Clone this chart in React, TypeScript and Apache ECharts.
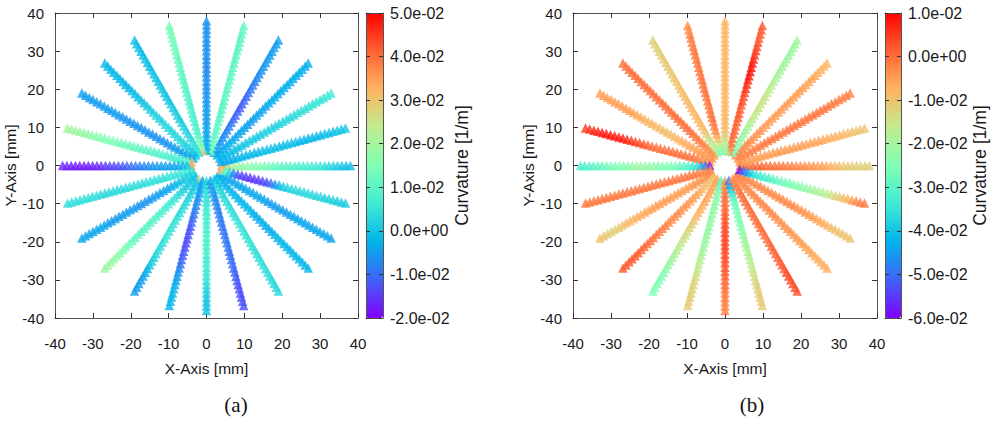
import React, { useEffect, useRef } from "react";
import * as echarts from "echarts";

// ---- measurement grid (polar) ----
const spokeAngles = [0, 15, 30, 45, 60, 75, 90, 105, 120, 135, 150, 165, 180, 195, 210, 225, 240, 255, 270, 285, 300, 315, 330, 345];
const radii = [4.0, 5.13, 6.27, 7.4, 8.53, 9.67, 10.8, 11.93, 13.07, 14.2, 15.33, 16.47, 17.6, 18.73, 19.87, 21.0, 22.13, 23.27, 24.4, 25.53, 26.67, 27.8, 28.93, 30.07, 31.2, 32.33, 33.47, 34.6, 35.73, 36.87, 38.0];

// ---- curvature values, in 1e-3 1/m, one row per spoke (same order as spokeAngles) ----
const curvA: number[][] = [
  [36, 30, 24, 20, 18, 17, 17, 16, 16, 15, 14, 13, 12, 11, 10, 10, 9, 8, 8, 7, 7, 6, 6, 5, 4, 3, 2, 1, 0, -1, -1],
  [-4, -4, -3, -3, -3, -2, -2, -2, -2, -2, -1, -1, -1, -1, -1, -1, -1, -1, -1, -2, -2, -2, -2, -2, -2, -1, -1, -1, 0, 0, 0],
  [-3, -2, -2, -1, -1, 0, 0, 0, 1, 1, 1, 1, 2, 2, 2, 2, 2, 3, 3, 3, 3, 4, 4, 4, 4, 5, 5, 5, 5, 6, 6],
  [-2, -2, -3, -3, -3, -3, -4, -4, -4, -4, -5, -5, -5, -4, -4, -4, -4, -3, -3, -3, -3, -3, -3, -3, -3, -3, -3, -3, -3, -3, -3],
  [-4, -5, -5, -6, -6, -7, -7, -8, -9, -10, -11, -11, -12, -12, -11, -11, -10, -9, -8, -8, -7, -7, -6, -6, -6, -5, -5, -5, -5, -5, -5],
  [14, 13, 12, 12, 11, 11, 11, 11, 10, 10, 10, 10, 10, 11, 11, 11, 11, 11, 11, 11, 11, 10, 10, 10, 10, 10, 10, 10, 10, 11, 11],
  [-2, -3, -3, -4, -4, -4, -4, -5, -5, -5, -5, -5, -6, -6, -6, -6, -6, -6, -7, -7, -7, -7, -6, -6, -6, -6, -6, -6, -6, -6, -6],
  [30, 18, 14, 12, 10, 9, 8, 8, 8, 8, 8, 8, 8, 9, 9, 9, 10, 10, 10, 11, 11, 12, 12, 12, 13, 13, 13, 14, 14, 14, 14],
  [5, 5, 4, 4, 3, 3, 2, 2, 2, 1, 1, 1, 1, 1, 0, 0, 0, 0, 0, 0, 0, 0, 0, -1, -1, -1, -1, -1, -1, -1, -1],
  [-1, 0, 1, 2, 2, 3, 3, 3, 3, 3, 3, 3, 2, 2, 2, 1, 1, 0, 0, -1, -1, -1, -2, -2, -2, -2, -2, -2, -2, -2, -2],
  [-3, -4, -4, -4, -5, -5, -5, -6, -6, -6, -6, -6, -6, -6, -6, -6, -6, -6, -6, -6, -6, -5, -5, -5, -5, -5, -5, -5, -5, -5, -5],
  [30, 12, 8, 7, 7, 7, 8, 8, 9, 9, 10, 10, 11, 11, 12, 12, 13, 13, 14, 14, 15, 15, 16, 16, 17, 17, 18, 18, 19, 19, 20],
  [35, -2, -3, -4, -4, -5, -5, -5, -5, -6, -6, -7, -8, -9, -10, -11, -12, -13, -14, -14, -15, -16, -17, -17, -18, -18, -18, -18, -18, -17, -17],
  [6, 6, 6, 5, 5, 5, 5, 4, 4, 4, 4, 4, 4, 4, 4, 4, 3, 3, 3, 3, 3, 3, 3, 4, 4, 4, 4, 4, 4, 4, 4],
  [3, 2, 1, 0, -1, -2, -3, -4, -4, -5, -5, -5, -6, -6, -6, -6, -5, -5, -5, -5, -5, -5, -5, -5, -4, -4, -4, -4, -4, -4, -4],
  [0, 0, 1, 1, 2, 3, 4, 5, 6, 7, 7, 8, 8, 9, 9, 9, 10, 10, 10, 11, 11, 12, 13, 14, 15, 16, 17, 18, 19, 19, 19],
  [27, 0, 1, 1, 2, 2, 3, 3, 4, 4, 4, 5, 5, 5, 5, 5, 5, 4, 4, 4, 3, 2, 1, 0, -2, -3, -4, -5, -5, -5, -5],
  [-4, -4, -5, -5, -6, -6, -7, -8, -9, -10, -11, -12, -12, -13, -13, -13, -13, -12, -12, -11, -10, -8, -6, -5, -4, -3, -2, -2, -2, -2, -2],
  [3, 3, 4, 4, 5, 5, 6, 6, 7, 7, 7, 8, 8, 8, 8, 8, 8, 8, 7, 7, 7, 6, 6, 5, 4, 3, 2, 1, 0, 0, 0],
  [-5, -6, -6, -6, -7, -7, -7, -8, -8, -8, -9, -9, -9, -9, -9, -9, -9, -10, -10, -10, -10, -11, -11, -12, -12, -13, -13, -13, -13, -13, -13],
  [1, 2, 2, 3, 3, 3, 4, 4, 4, 4, 4, 5, 5, 5, 5, 5, 5, 5, 4, 4, 4, 4, 4, 4, 4, 4, 4, 3, 3, 3, 3],
  [-1, -1, -2, -2, -2, -2, -2, -2, -2, -2, -2, -2, -3, -3, -3, -3, -3, -3, -3, -2, -2, -2, -2, -2, -2, -2, -2, -2, -2, -2, -2],
  [-3, -3, -3, -4, -4, -4, -4, -4, -4, -4, -4, -4, -4, -5, -5, -5, -5, -5, -5, -4, -4, -4, -4, -4, -4, -4, -4, -4, -4, -4, -4],
  [30, 10, 2, -8, -12, -14, -14, -15, -15, -15, -14, -13, -10, -6, -2, 1, 2, 3, 3, 3, 3, 3, 3, 3, 3, 2, 2, 2, 1, 1, 1],
];

const curvB: number[][] = [
  [-1, 0, 0, 1, 1, 1, 0, 0, 0, -1, -1, -2, -2, -3, -3, -3, -4, -4, -5, -5, -6, -7, -8, -9, -10, -10, -11, -11, -12, -12, -12],
  [-4, -4, -5, -5, -5, -5, -5, -5, -5, -5, -5, -5, -5, -5, -5, -5, -6, -6, -6, -6, -6, -7, -7, -7, -8, -8, -9, -9, -10, -10, -10],
  [-4, -3, -3, -2, -2, -2, -1, -1, -1, -1, -1, -1, -1, -1, -1, -1, -1, -1, -1, -1, -1, -1, -1, -1, -1, -1, -2, -2, -2, -2, -2],
  [-2, -2, -2, -3, -3, -3, -4, -4, -4, -5, -5, -5, -5, -5, -5, -5, -5, -5, -5, -5, -5, -5, -5, -6, -6, -6, -6, -7, -7, -8, -8],
  [-25, -25, -24, -23, -22, -21, -20, -19, -18, -17, -16, -16, -15, -15, -15, -15, -16, -16, -17, -18, -19, -20, -20, -20, -21, -21, -21, -21, -21, -21, -21],
  [-4, -2, 0, 0, 1, 1, 1, 1, 2, 2, 2, 2, 3, 3, 4, 5, 6, 7, 8, 8, 8, 8, 7, 6, 5, 4, 3, 2, 2, 2, 2],
  [-22, -20, -17, -14, -11, -9, -8, -8, -8, -8, -8, -8, -8, -8, -8, -8, -8, -8, -8, -8, -8, -8, -8, -8, -8, -8, -8, -8, -8, -8, -8],
  [-26, -22, -16, -10, -6, -3, -2, -1, -1, -1, -1, -1, -1, -1, -1, -1, -1, -1, -1, -1, -1, -1, -1, -1, -1, -1, -2, -2, -2, -3, -3],
  [-22, -20, -18, -16, -14, -12, -10, -9, -8, -8, -8, -8, -8, -8, -8, -9, -9, -9, -10, -10, -10, -10, -11, -11, -11, -11, -11, -12, -12, -12, -12],
  [-5, -4, -3, -3, -2, -2, -1, -1, 0, 0, 0, 0, 0, 0, 0, 0, 0, 0, 0, 0, 0, 0, 0, 0, 0, 0, 0, 0, 0, 0, 0],
  [-4, -4, -5, -5, -5, -6, -6, -7, -7, -8, -8, -9, -9, -9, -9, -9, -8, -8, -7, -7, -6, -6, -5, -5, -5, -5, -5, -5, -5, -5, -5],
  [-5, -4, -3, -2, -1, -1, 0, 0, 0, 0, 0, 0, 0, 0, 0, 1, 2, 3, 4, 5, 6, 7, 8, 8, 8, 8, 8, 7, 7, 6, 5],
  [-58, -50, -44, -37, -34, -32, -30, -28, -27, -26, -25, -25, -24, -23, -22, -22, -21, -21, -22, -23, -24, -25, -25, -26, -27, -28, -29, -30, -31, -32, -33],
  [-3, -2, -2, -1, -1, -1, -1, -1, -1, -1, -1, -1, -1, -1, -1, -1, -1, -1, -1, -1, -1, -1, -1, -1, -1, -1, -1, -1, -1, -1, -1],
  [-3, -3, -4, -4, -4, -4, -5, -5, -5, -5, -5, -5, -5, -5, -5, -5, -5, -6, -6, -7, -7, -8, -8, -9, -10, -11, -12, -12, -11, -10, -9],
  [-10, -10, -9, -9, -8, -7, -6, -5, -5, -4, -4, -4, -3, -3, -3, -3, -2, -2, -2, -1, -1, 0, 0, 1, 1, 2, 2, 2, 2, 2, 2],
  [-6, -6, -6, -6, -6, -6, -6, -7, -7, -8, -9, -10, -11, -12, -13, -14, -15, -16, -17, -18, -19, -20, -21, -22, -23, -24, -25, -25, -25, -25, -25],
  [-30, -28, -26, -25, -24, -23, -22, -22, -22, -22, -22, -22, -22, -22, -22, -21, -21, -20, -19, -18, -17, -16, -15, -14, -13, -12, -12, -12, -11, -11, -11],
  [-5, -3, -2, -1, 0, 0, 1, 1, 2, 2, 3, 3, 4, 4, 4, 4, 4, 3, 3, 3, 2, 2, 1, 1, 0, 0, -1, -1, -2, -2, -2],
  [-48, -44, -40, -35, -31, -28, -27, -26, -25, -25, -24, -24, -23, -22, -21, -20, -20, -19, -18, -17, -17, -16, -15, -14, -13, -12, -12, -11, -11, -11, -11],
  [-3, -2, -1, -1, 0, 0, 0, 0, 0, 0, 0, 0, 0, 0, 0, 0, 0, 0, 1, 1, 1, 1, 2, 2, 2, 3, 3, 3, 3, 3, 3],
  [-3, -3, -3, -3, -3, -3, -3, -3, -3, -3, -3, -3, -3, -3, -4, -4, -4, -4, -4, -5, -5, -5, -5, -6, -6, -6, -7, -7, -7, -7, -7],
  [-3, -3, -3, -3, -3, -3, -3, -3, -3, -3, -3, -3, -3, -3, -3, -3, -4, -4, -4, -5, -5, -6, -6, -7, -8, -9, -9, -10, -10, -10, -10],
  [-58, -50, -44, -38, -35, -34, -33, -32, -30, -29, -28, -27, -26, -25, -24, -23, -22, -21, -20, -19, -18, -17, -15, -13, -11, -9, -7, -5, -3, -2, -1],
];

// ---- axis settings ----
const XY_MIN = -40;
const XY_MAX = 40;
const XY_STEP = 10;
const rangeA = [-0.02, 0.05];
const rangeB = [-0.06, 0.01];
const CBAR_STEP = 0.01;
const captions = ["(a)", "(b)"];

const rainbow = ["#8000ff", "#4062fa", "#00b4eb", "#40ecd4", "#80ffb4", "#c0ec8e", "#ffb462", "#ff6232", "#ff0000"];

const frameColor = "#555555";
const tickColor = "#333333";
const textColor = "#1a1a1a";
const sans = "'Liberation Sans', Arial, sans-serif";

function buildPoints(curv: number[][]) {
  const pts: number[][] = [];
  spokeAngles.forEach((deg, s) => {
    const t = (deg * Math.PI) / 180;
    const row = curv[s] || [];
    row.forEach((c, i) => {
      const r = radii[i];
      if (r === undefined) return;
      pts.push([r * Math.cos(t), r * Math.sin(t), c / 1000]);
    });
  });
  return pts;
}

function expLabel(v: number) {
  const s = (Math.round(v * 1000) / 1000).toExponential(1);
  return s.replace(/e([+-])(\d)$/, (_m, sign, d) => "e" + sign + "0" + d);
}

function mainAxes(gridIndex: number) {
  const common = {
    type: "value",
    gridIndex,
    min: XY_MIN,
    max: XY_MAX,
    interval: XY_STEP,
    splitLine: { show: false },
    axisLine: { show: true, onZero: false, lineStyle: { color: frameColor, width: 1 } },
    axisTick: { show: true, inside: true, length: 5, lineStyle: { color: tickColor } },
  };
  const xs = [
    {
      ...common,
      position: "bottom",
      axisLabel: { show: true, margin: 18, fontSize: 15, color: textColor, fontFamily: sans },
      name: "X-Axis [mm]",
      nameLocation: "middle",
      nameGap: 42,
      nameTextStyle: { fontSize: 15.5, color: textColor, fontFamily: sans },
    },
    { ...common, position: "top", axisLabel: { show: false } },
  ];
  const ys = [
    {
      ...common,
      position: "left",
      axisLabel: { show: true, margin: 11, fontSize: 15, color: textColor, fontFamily: sans },
      name: "Y-Axis [mm]",
      nameLocation: "middle",
      nameGap: 34,
      nameTextStyle: { fontSize: 15.5, color: textColor, fontFamily: sans },
    },
    { ...common, position: "right", axisLabel: { show: false } },
  ];
  return { xs, ys };
}

function barAxes(gridIndex: number, range: number[]) {
  const line = { show: true, onZero: false, lineStyle: { color: frameColor, width: 1 } };
  const xs = [
    { type: "value", gridIndex, position: "bottom", min: 0, max: 1, z: 10, axisLine: line, axisTick: { show: false }, axisLabel: { show: false }, splitLine: { show: false } },
    { type: "value", gridIndex, position: "top", min: 0, max: 1, z: 10, axisLine: line, axisTick: { show: false }, axisLabel: { show: false }, splitLine: { show: false } },
  ];
  const yc = {
    type: "value",
    gridIndex,
    min: range[0],
    max: range[1],
    interval: CBAR_STEP,
    z: 10,
    axisLine: line,
    splitLine: { show: false },
    axisTick: { show: true, inside: true, length: 4, lineStyle: { color: tickColor } },
  };
  const ys = [
    { ...yc, position: "left", axisLabel: { show: false } },
    {
      ...yc,
      position: "right",
      axisLabel: { show: true, margin: 7, fontSize: 16, color: textColor, fontFamily: sans, formatter: (v: number) => expLabel(v) },
      name: "Curvature [1/m]",
      nameLocation: "middle",
      nameGap: 69,
      nameTextStyle: { fontSize: 17.5, color: textColor, fontFamily: sans },
    },
  ];
  return { xs, ys };
}

export default function App() {
  const ref = useRef<HTMLDivElement>(null);
  useEffect(() => {
    if (!ref.current) return;
    const chart = echarts.init(ref.current, undefined, { renderer: "svg" });
    const mA = mainAxes(0);
    const bA = barAxes(1, rangeA);
    const mB = mainAxes(2);
    const bB = barAxes(3, rangeB);
    const option: any = {
      animation: false,
      backgroundColor: "#ffffff",
      grid: [
        { left: 55, top: 13, width: 303, height: 305 },
        { left: 366, top: 13, width: 17, height: 305 },
        { left: 573, top: 13, width: 304, height: 305 },
        { left: 885, top: 13, width: 16, height: 305 },
      ],
      xAxis: [...mA.xs, ...bA.xs, ...mB.xs, ...bB.xs],
      yAxis: [...mA.ys, ...bA.ys, ...mB.ys, ...bB.ys],
      visualMap: [
        {
          type: "continuous",
          seriesIndex: 0,
          dimension: 2,
          min: rangeA[0],
          max: rangeA[1],
          inRange: { color: rainbow },
          left: 366,
          top: 13,
          itemWidth: 17,
          itemHeight: 305,
          padding: 0,
          calculable: false,
          hoverLink: false,
        },
        {
          type: "continuous",
          seriesIndex: 1,
          dimension: 2,
          min: rangeB[0],
          max: rangeB[1],
          inRange: { color: rainbow },
          left: 885,
          top: 13,
          itemWidth: 16,
          itemHeight: 305,
          padding: 0,
          calculable: false,
          hoverLink: false,
        },
      ],
      series: [
        {
          type: "scatter",
          xAxisIndex: 0,
          yAxisIndex: 0,
          symbol: "triangle",
          symbolSize: 9.5,
          data: buildPoints(curvA),
          silent: true,
        },
        {
          type: "scatter",
          xAxisIndex: 4,
          yAxisIndex: 4,
          symbol: "triangle",
          symbolSize: 9.5,
          data: buildPoints(curvB),
          silent: true,
        },
      ],
      graphic: [
        {
          type: "text",
          x: 236,
          y: 405,
          style: { text: captions[0], font: "21px 'Liberation Serif', 'DejaVu Serif', serif", fill: "#111", textAlign: "center", textVerticalAlign: "middle" },
        },
        {
          type: "text",
          x: 752,
          y: 405,
          style: { text: captions[1], font: "21px 'Liberation Serif', 'DejaVu Serif', serif", fill: "#111", textAlign: "center", textVerticalAlign: "middle" },
        },
      ],
    };
    chart.setOption(option);
    return () => chart.dispose();
  }, []);
  return <div ref={ref} style={{ position: "fixed", left: 0, top: 0, width: 991, height: 421, background: "#fff" }} />;
}
